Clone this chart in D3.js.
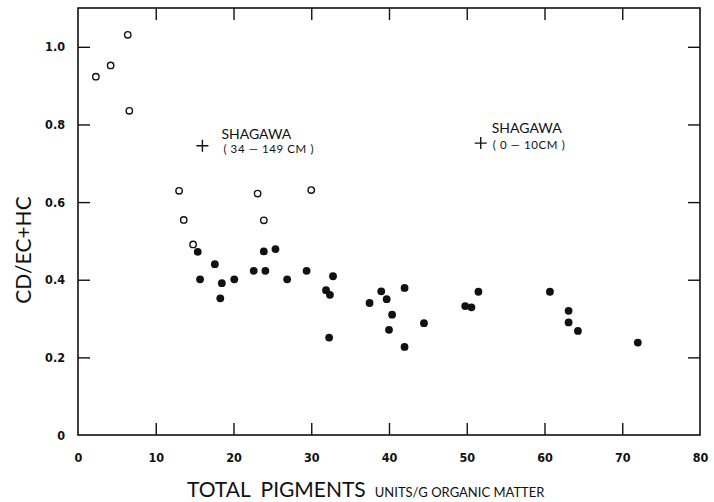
<!DOCTYPE html>
<html>
<head>
<meta charset="utf-8">
<script src="https://cdn.jsdelivr.net/npm/d3@7"></script>
<style>
  html, body { margin: 0; padding: 0; background: #fff; }
  svg { display: block; }
</style>
</head>
<body>
<svg id="chart" width="714" height="502"></svg>
<script>
// ---- data ----
const openX = [2.3, 4.2, 6.4, 6.6, 13.0, 13.6, 14.8, 23.1, 23.9, 30.0];
const openY = [0.923, 0.952, 1.031, 0.835, 0.629, 0.554, 0.491, 0.622, 0.553, 0.631];

const filledX = [15.4, 15.7, 17.6, 18.3, 18.5, 20.1, 22.6, 23.9, 24.1, 25.4, 26.9, 29.4,
                 31.9, 32.4, 32.8, 32.3, 37.5, 39.0, 39.7, 40.4, 40.0, 42.0, 42.0, 44.5,
                 49.8, 50.6, 51.5, 60.7, 63.1, 63.1, 64.3, 72.0];
const filledY = [0.472, 0.401, 0.440, 0.352, 0.391, 0.401, 0.423, 0.473, 0.423, 0.479, 0.401, 0.423,
                 0.373, 0.361, 0.409, 0.251, 0.340, 0.370, 0.350, 0.310, 0.271, 0.379, 0.227, 0.288,
                 0.332, 0.329, 0.369, 0.369, 0.320, 0.290, 0.268, 0.238];

const crossX = [16.0, 51.8];
const crossY = [0.745, 0.752];
const crossTitle = ["SHAGAWA", "SHAGAWA"];
const crossSub = ["( 34 \u2014 149 CM )", "( 0 \u2014 10CM )"];

const xTicks = [0, 10, 20, 30, 40, 50, 60, 70, 80];
const yTicks = [0, 0.2, 0.4, 0.6, 0.8, 1.0];
const yTickLabels = ["0", "0.2", "0.4", "0.6", "0.8", "1.0"];

// ---- layout ----
const W = 714, H = 502;
const margin = { left: 78, right: 14, top: 8, bottom: 67 };
const svg = d3.select("#chart");

const x = d3.scaleLinear().domain([0, 80]).range([margin.left, W - margin.right]);
const y = d3.scaleLinear().domain([0, 1.1]).range([H - margin.bottom, margin.top]);

const tickFont = "'Liberation Sans Narrow', 'DejaVu Sans Condensed', 'Liberation Sans', sans-serif";
const titleFont = "Lato, 'Open Sans', 'Liberation Sans', sans-serif";
const tickLen = 12;

// frame
svg.append("rect")
  .attr("x", x(0)).attr("y", y(1.1))
  .attr("width", x(80) - x(0)).attr("height", y(0) - y(1.1))
  .attr("fill", "none").attr("stroke", "#111").attr("stroke-width", 1.6);

// bottom axis (ticks inward)
const xAxis = d3.axisBottom(x).tickValues(xTicks).tickSize(-tickLen).tickPadding(tickLen + 6)
  .tickFormat(d3.format("d"));
const gx = svg.append("g").attr("transform", `translate(0,${y(0)})`).call(xAxis);
gx.select(".domain").remove();
gx.selectAll(".tick line").attr("stroke", "#111").attr("stroke-width", 1.4)
  .filter(d => d === 0 || d === 80).remove();
gx.selectAll(".tick text").attr("font-family", tickFont).attr("font-weight", "bold")
  .attr("font-size", 12.5).attr("fill", "#111");

// top ticks
const gxt = svg.append("g").attr("transform", `translate(0,${y(1.1)})`)
  .call(d3.axisTop(x).tickValues(xTicks.filter(d => d > 0 && d < 80)).tickSize(-tickLen).tickFormat(""));
gxt.select(".domain").remove();
gxt.selectAll(".tick line").attr("stroke", "#111").attr("stroke-width", 1.4);

// left axis
const yAxis = d3.axisLeft(y).tickValues(yTicks).tickSize(-tickLen).tickPadding(tickLen + 1)
  .tickFormat((d, i) => yTickLabels[i]);
const gy = svg.append("g").attr("transform", `translate(${x(0)},0)`).call(yAxis);
gy.select(".domain").remove();
gy.selectAll(".tick line").attr("stroke", "#111").attr("stroke-width", 1.4)
  .filter(d => d === 0).remove();
gy.selectAll(".tick text").attr("font-family", tickFont).attr("font-weight", "bold")
  .attr("font-size", 12.5).attr("fill", "#111");

// right ticks
const gyr = svg.append("g").attr("transform", `translate(${x(80)},0)`)
  .call(d3.axisRight(y).tickValues(yTicks.filter(d => d > 0)).tickSize(-tickLen).tickFormat(""));
gyr.select(".domain").remove();
gyr.selectAll(".tick line").attr("stroke", "#111").attr("stroke-width", 1.4);

// axis titles
const xt = svg.append("text")
  .attr("x", 187).attr("y", 497)
  .attr("font-family", titleFont).attr("fill", "#111");
xt.append("tspan").attr("font-size", 21).attr("word-spacing", 5).text("TOTAL PIGMENTS");
xt.append("tspan").attr("font-size", 13).attr("dx", 9).text("UNITS/G ORGANIC MATTER");

svg.append("text")
  .attr("transform", `translate(31,${250}) rotate(-90)`)
  .attr("text-anchor", "middle")
  .attr("font-family", titleFont).attr("font-size", 21).attr("fill", "#111")
  .text("CD/EC+HC");

// open circles
svg.append("g").selectAll("circle").data(openX).join("circle")
  .attr("cx", d => x(d)).attr("cy", (d, i) => y(openY[i]))
  .attr("r", 3.2).attr("fill", "#fff").attr("stroke", "#111").attr("stroke-width", 1.4);

// filled circles
svg.append("g").selectAll("circle").data(filledX).join("circle")
  .attr("cx", d => x(d)).attr("cy", (d, i) => y(filledY[i]))
  .attr("r", 3.9).attr("fill", "#111");

// crosses + labels
const cg = svg.append("g").selectAll("g").data(crossX).join("g")
  .attr("transform", (d, i) => `translate(${x(d)},${y(crossY[i])})`);
cg.append("path").attr("d", "M-6,0H6M0,-6V6").attr("stroke", "#111").attr("stroke-width", 1.4);
cg.append("text").attr("x", (d, i) => i === 0 ? 19 : 11).attr("y", (d, i) => i === 0 ? -7 : -10)
  .attr("font-family", titleFont).attr("font-size", 14).attr("fill", "#111")
  .text((d, i) => crossTitle[i]);
cg.append("text").attr("x", (d, i) => i === 0 ? 21 : 12).attr("y", (d, i) => i === 0 ? 7 : 6)
  .attr("font-family", titleFont).attr("font-size", 11.5).attr("letter-spacing", 0.6).attr("fill", "#111")
  .text((d, i) => crossSub[i]);
</script>
</body>
</html>
